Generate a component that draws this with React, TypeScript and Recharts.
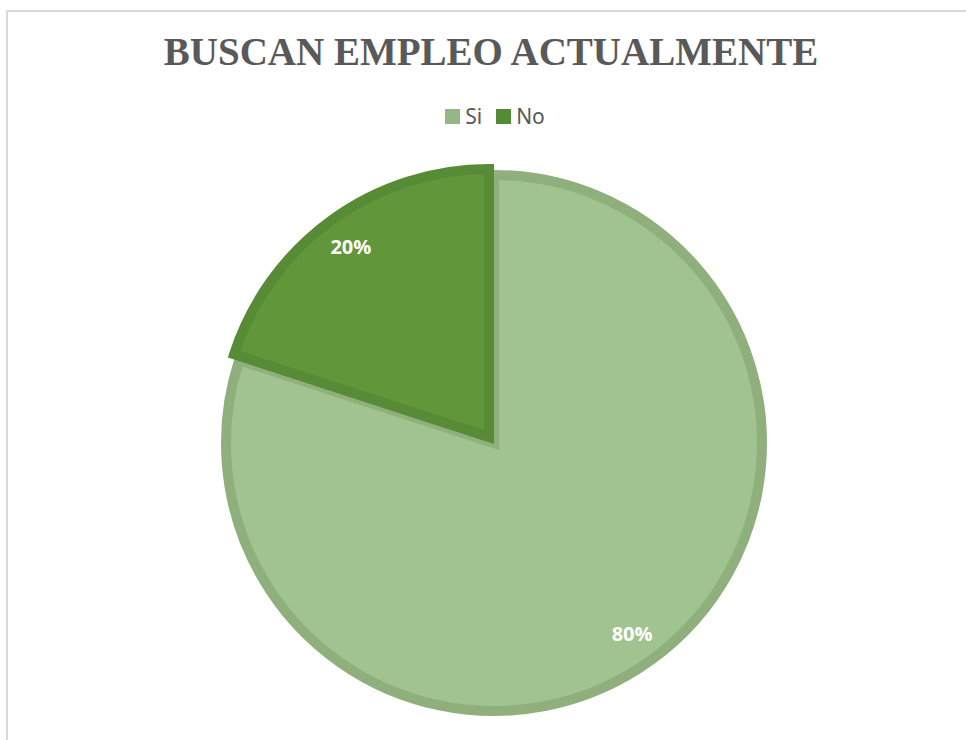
import { Cell, Legend, Pie, PieChart } from "recharts"

const categories = ["Si", "No"]
const values = [80, 20]

const fills = ["#a1c38f", "#62963b"]
const strokes = ["#8fb07c", "#578b35"]

const data = categories.map((name, i) => ({ name, value: values[i] }))

const RAD = Math.PI / 180

// one Pie per slice so the "No" slice can sit slightly exploded
const makeLabel = (only: number) => (props: any) => {
  const { cx, cy, midAngle, outerRadius, percent, index } = props
  if (index !== only) return null
  const r = outerRadius - 33
  const x = cx + r * Math.cos(-midAngle * RAD)
  const y = cy + r * Math.sin(-midAngle * RAD)
  return (
    <text
      x={x}
      y={y}
      fill="#ffffff"
      textAnchor="middle"
      dominantBaseline="central"
      style={{ fontFamily: "'Open Sans', sans-serif", fontWeight: 700, fontSize: 20 }}>
      {`${Math.round(percent * 100)}%`}
    </text>
  )
}

const LegendBox = () => (
  <div
    style={{
      display: "flex",
      justifyContent: "center",
      alignItems: "center",
      fontFamily: "'Noto Sans', sans-serif",
      fontSize: 21,
      color: "#595959",
      marginLeft: 38,
    }}>
    {categories.map((c, i) => (
      <div key={c} style={{ display: "flex", alignItems: "center", marginRight: 14 }}>
        <span
          style={{
            display: "inline-block",
            width: 15,
            height: 15,
            background: i === 0 ? "#95b685" : "#568b35",
            marginRight: 5,
          }}
        />
        <span style={{ lineHeight: "22px" }}>{c}</span>
      </div>
    ))}
  </div>
)

const App = () => {
  return (
    <div style={{ position: "absolute", left: 0, top: 0, width: 966, height: 740, background: "#fff" }}>
      <div
        style={{
          position: "absolute",
          left: 6,
          top: 10,
          width: 960,
          height: 730,
          borderTop: "2px solid #d9d9d9",
          borderLeft: "2px solid #d9d9d9",
          boxSizing: "border-box",
        }}
      />
      <svg
        width={966}
        height={100}
        style={{ position: "absolute", left: 0, top: 0 }}>
        <text
          x={491}
          y={65}
          textAnchor="middle"
          fill="#595959"
          style={{ fontFamily: "'Liberation Serif', 'Times New Roman', serif", fontWeight: 700, fontSize: 39 }}>
          BUSCAN EMPLEO ACTUALMENTE
        </text>
      </svg>
      <PieChart
        width={966}
        height={740}
        style={{ position: "absolute", left: 0, top: 0 }}
        margin={{ top: 0, right: 0, bottom: 0, left: 0 }}>
        <Legend
          content={() => <LegendBox />}
          wrapperStyle={{ position: "absolute", top: 105, left: 0, width: 966 }}
        />
        <Pie
          data={data}
          dataKey="value"
          nameKey="name"
          cx={494}
          cy={443}
          outerRadius={268}
          startAngle={90}
          endAngle={-270}
          strokeWidth={10}
          labelLine={false}
          label={makeLabel(0)}
          isAnimationActive={false}>
          {data.map((d, i) => (
            <Cell
              key={d.name}
              fill={i === 0 ? fills[0] : "none"}
              stroke={i === 0 ? strokes[0] : "none"}
            />
          ))}
        </Pie>
        <Pie
          data={data}
          dataKey="value"
          nameKey="name"
          cx={489}
          cy={437}
          outerRadius={268}
          startAngle={90}
          endAngle={-270}
          strokeWidth={10}
          labelLine={false}
          label={makeLabel(1)}
          legendType="none"
          isAnimationActive={false}>
          {data.map((d, i) => (
            <Cell
              key={d.name}
              fill={i === 1 ? fills[1] : "none"}
              stroke={i === 1 ? strokes[1] : "none"}
            />
          ))}
        </Pie>
      </PieChart>
    </div>
  )
}

export default App
